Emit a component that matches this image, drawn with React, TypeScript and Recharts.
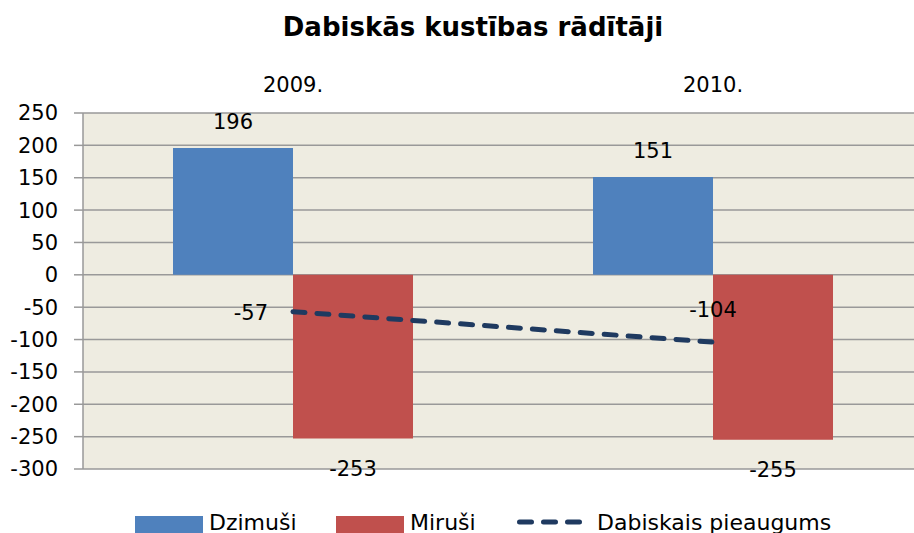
import {
  ComposedChart,
  Bar,
  Line,
  XAxis,
  YAxis,
  CartesianGrid,
  LabelList,
} from "recharts";

const years = ["2009.", "2010."];
const dzimusi = [196, 151];
const mirusi = [-253, -255];
const pieaugums = [-57, -104];
const yTicks = [-300, -250, -200, -150, -100, -50, 0, 50, 100, 150, 200, 250];

const data = years.map((year, i) => ({
  year,
  dzimusi: dzimusi[i],
  mirusi: mirusi[i],
  pieaugums: pieaugums[i],
}));

const FONT = "'DejaVu Sans', sans-serif";
const FS = 21;
const BLUE = "#4F81BD";
const RED = "#C0504D";
const NAVY = "#1F3A60";
const GRID = "#999999";

// eslint-disable-next-line @typescript-eslint/no-explicit-any
function TopLabel(props: any) {
  const { x, y, width, height, value } = props;
  const top = Math.min(Number(y), Number(y) + Number(height));
  return (
    <text
      x={Number(x) + Number(width) / 2}
      y={top - 26}
      textAnchor="middle"
      dominantBaseline="central"
      fontSize={FS}
      fontFamily={FONT}
      fill="#000"
    >
      {value}
    </text>
  );
}

// eslint-disable-next-line @typescript-eslint/no-explicit-any
function BottomLabel(props: any) {
  const { x, y, width, height, value } = props;
  const bottom = Math.max(Number(y), Number(y) + Number(height));
  return (
    <text
      x={Number(x) + Number(width) / 2}
      y={bottom + 30}
      textAnchor="middle"
      dominantBaseline="central"
      fontSize={FS}
      fontFamily={FONT}
      fill="#000"
    >
      {value}
    </text>
  );
}

// eslint-disable-next-line @typescript-eslint/no-explicit-any
function LineLabel(props: any) {
  const { x, y, value, index } = props;
  const first = index === 0;
  return (
    <text
      x={first ? Number(x) - 25 : Number(x)}
      y={first ? Number(y) + 1 : Number(y) - 32}
      textAnchor={first ? "end" : "middle"}
      dominantBaseline="central"
      fontSize={FS}
      fontFamily={FONT}
      fill="#000"
    >
      {value}
    </text>
  );
}

// eslint-disable-next-line @typescript-eslint/no-explicit-any
function YearTick(props: any) {
  const { x, y, payload } = props;
  return (
    <text
      x={x}
      y={Number(y) - 26}
      textAnchor="middle"
      dominantBaseline="central"
      fontSize={FS}
      fontFamily={FONT}
      fill="#000"
    >
      {payload.value}
    </text>
  );
}

function LegendRow() {
  const item = {
    position: "absolute",
    top: 0,
    display: "flex",
    alignItems: "flex-start",
  } as const;
  return (
    <div
      style={{
        position: "absolute",
        top: 512,
        left: 0,
        width: 914,
        height: 21,
        fontFamily: FONT,
        fontSize: 22,
        lineHeight: "22px",
        color: "#000",
        whiteSpace: "nowrap",
      }}
    >
      <div style={{ ...item, left: 135 }}>
        <span
          style={{ width: 68, height: 20, marginTop: 4, background: BLUE, marginRight: 6 }}
        />
        <span>Dzimuši</span>
      </div>
      <div style={{ ...item, left: 336 }}>
        <span
          style={{ width: 68, height: 20, marginTop: 4, background: RED, marginRight: 6 }}
        />
        <span>Miruši</span>
      </div>
      <div style={{ ...item, left: 517 }}>
        <svg width={65} height={20} style={{ marginRight: 15 }}>
          <line
            x1={2.5}
            y1={10}
            x2={62.5}
            y2={10}
            stroke={NAVY}
            strokeWidth={5}
            strokeDasharray="12 12"
            strokeLinecap="round"
          />
        </svg>
        <span>Dabiskais pieaugums</span>
      </div>
    </div>
  );
}

export default function App() {
  return (
    <div
      style={{
        position: "fixed",
        left: 0,
        top: 0,
        width: 914,
        height: 533,
        overflow: "hidden",
        background: "#fff",
      }}
    >
      <div
        style={{
          position: "absolute",
          top: 12,
          left: 0,
          width: 946,
          textAlign: "center",
          fontFamily: FONT,
          fontWeight: 700,
          fontSize: 26,
          lineHeight: "30px",
          color: "#000",
        }}
      >
        Dabiskās kustības rādītāji
      </div>
      <ComposedChart
        width={923}
        height={533}
        data={data}
        margin={{ top: 60, right: 0, bottom: 64, left: 0 }}
        barGap={0}
        barCategoryGap="21.43%"
      >
        <CartesianGrid
          vertical={false}
          stroke={GRID}
          strokeWidth={1.5}
          fill="#EEECE1"
          fillOpacity={1}
        />
        <XAxis
          dataKey="year"
          orientation="top"
          height={53}
          axisLine={false}
          tickLine={false}
          tickSize={0}
          tick={<YearTick />}
        />
        <YAxis
          domain={[-300, 250]}
          ticks={yTicks}
          width={83}
          interval={0}
          axisLine={{ stroke: GRID, strokeWidth: 1.5 }}
          tickLine={{ stroke: GRID, strokeWidth: 1.5 }}
          tickSize={9}
          tickMargin={16}
          tick={{ fontSize: FS, fontFamily: FONT, fill: "#000" }}
        />
        <Bar dataKey="dzimusi" fill={BLUE} isAnimationActive={false}>
          <LabelList dataKey="dzimusi" content={<TopLabel />} />
        </Bar>
        <Bar dataKey="mirusi" fill={RED} isAnimationActive={false}>
          <LabelList dataKey="mirusi" content={<BottomLabel />} />
        </Bar>
        <Line
          dataKey="pieaugums"
          stroke={NAVY}
          strokeWidth={5}
          strokeDasharray="12 12"
          strokeLinecap="round"
          dot={false}
          isAnimationActive={false}
        >
          <LabelList dataKey="pieaugums" content={<LineLabel />} />
        </Line>
      </ComposedChart>
      <LegendRow />
    </div>
  );
}
